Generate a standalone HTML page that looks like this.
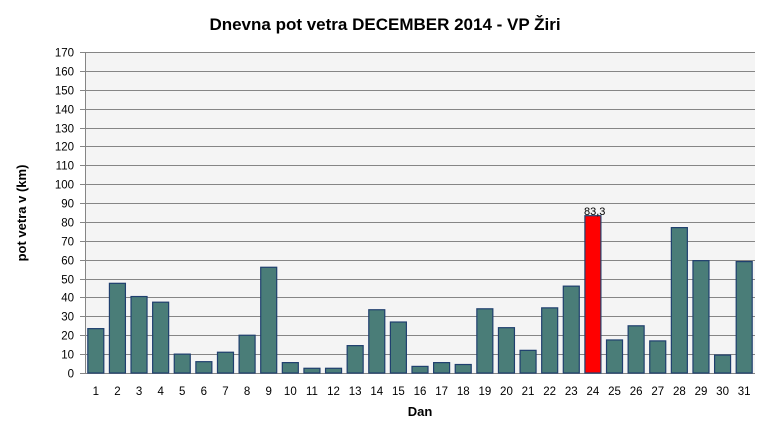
<!DOCTYPE html>
<html><head><meta charset="utf-8"><style>body{margin:0;background:#fff}svg{display:block}</style></head><body>
<svg width="770" height="439" xmlns="http://www.w3.org/2000/svg" font-family="Liberation Sans, DejaVu Sans, sans-serif">
<text x="385" y="30" text-anchor="middle" font-size="17" font-weight="bold" fill="#000">Dnevna pot vetra DECEMBER 2014 - VP Žiri</text>
<rect x="85" y="52" width="670" height="321" fill="#f4f4f4"/>
<g id="g" stroke="#858585" stroke-width="1"></g>
<g id="b"></g>
<line x1="85.5" y1="52" x2="85.5" y2="373" stroke="#858585"/>
<text x="584" y="215" font-size="11" fill="#000" text-anchor="start">83,3</text>
<text x="420" y="416" text-anchor="middle" font-size="13" font-weight="bold">Dan</text>
<text transform="translate(26,213) rotate(-90)" text-anchor="middle" font-size="13" font-weight="bold">pot vetra  v (km)</text>
<g id="t" font-size="11.5" fill="#000"></g>
<script>
var ns="http://www.w3.org/2000/svg",g=document.getElementById('g'),b=document.getElementById('b'),t=document.getElementById('t');
function el(p,n,a,tx){var e=document.createElementNS(ns,n);for(var k in a)e.setAttribute(k,a[k]);if(tx!=null)e.textContent=tx;p.appendChild(e);}
var y0=373,s=321/170;
for(var v=0;v<=170;v+=10){var y=Math.round(y0-v*s)+0.5;el(g,'line',{x1:80,x2:755,y1:y,y2:y});el(t,'text',{x:74,y:y+4,'text-anchor':'end'},v);}
var d=[23.5,47.5,40.5,37.5,10,6,11,20,56,5.5,2.5,2.5,14.5,33.5,27,3.5,5.5,4.5,34,24,12,34.5,46,83.3,17.5,25,17,77,59.5,9.5,59];
var p=670/31;
for(var i=0;i<31;i++){var c=85+p*(i+0.5),h=d[i]*s;el(b,'rect',{x:c-8,y:y0-h,width:16,height:h,fill:i==23?'#ff0000':'#4a7d78',stroke:'#1f3f6e','stroke-width':1.2});
el(t,'text',{x:c,y:395,'text-anchor':'middle'},i+1);}
</script>
</svg>
</body></html>
